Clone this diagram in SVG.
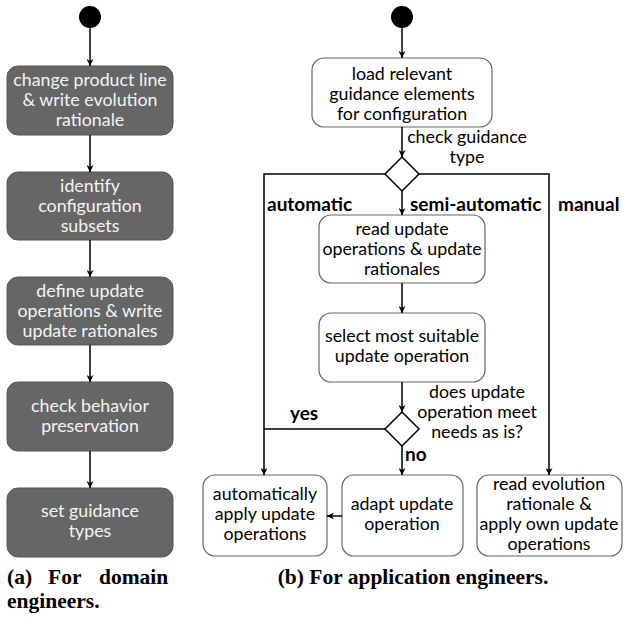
<svg xmlns="http://www.w3.org/2000/svg" width="624" height="623" viewBox="0 0 624 623">
<defs>
<marker id="arr" viewBox="0 0 10 10" refX="10" refY="5" markerWidth="7" markerHeight="7" markerUnits="userSpaceOnUse" orient="auto"><path d="M0,0 L10,5 L0,10 L3,5 z" fill="#000"/></marker>
<style>
.dark rect{fill:#666;stroke:#555;stroke-width:1}
.dark text{fill:#f4f4f4}
.light rect{fill:#fff;stroke:#666;stroke-width:1.2}
text{font-family:Lato,"Open Sans",sans-serif;font-size:17.8px;text-anchor:middle;fill:#000}
.lbl{text-anchor:start}
.b{font-weight:bold;font-size:19px}
.cap{font-family:"Liberation Serif",serif;font-weight:bold;font-size:21.5px}
.conn line,.conn path{stroke:#000;stroke-width:1.5;fill:none}
.dia{fill:#fff;stroke:#000;stroke-width:1.5}
</style>
</defs>
<rect width="624" height="623" fill="#fff"/>

<g id="start-a"><circle cx="90" cy="17" r="11" fill="#000"/></g>
<g id="a1" class="dark"><rect x="7" y="66" width="166" height="69" rx="11"/><text x="90" y="86">change product line</text><text x="90" y="106">&amp; write evolution</text><text x="90" y="126">rationale</text></g>
<g id="a2" class="dark"><rect x="7" y="172" width="166" height="68" rx="11"/><text x="90" y="192">identify</text><text x="90" y="212">configuration</text><text x="90" y="232">subsets</text></g>
<g id="a3" class="dark"><rect x="7" y="277" width="166" height="68" rx="11"/><text x="90" y="297">define update</text><text x="90" y="317">operations &amp; write</text><text x="90" y="337">update rationales</text></g>
<g id="a4" class="dark"><rect x="7" y="382" width="166" height="69" rx="11"/><text x="90" y="412">check behavior</text><text x="90" y="432">preservation</text></g>
<g id="a5" class="dark"><rect x="7" y="488" width="166" height="69" rx="11"/><text x="90" y="517">set guidance</text><text x="90" y="537">types</text></g>

<g id="start-b"><circle cx="402" cy="17" r="11" fill="#000"/></g>
<g id="b1" class="light"><rect x="312" y="58" width="180" height="69" rx="12"/><text x="402" y="80">load relevant</text><text x="402" y="100">guidance elements</text><text x="402" y="120">for configuration</text></g>
<g id="d1"><path class="dia" d="M402,157 L419,174 L402,191 L385,174 z"/></g>
<g id="b2" class="light"><rect x="319" y="215" width="166" height="68" rx="12"/><text x="402" y="235">read update</text><text x="402" y="255">operations &amp; update</text><text x="402" y="275">rationales</text></g>
<g id="b3" class="light"><rect x="319" y="313" width="166" height="69" rx="12"/><text x="402" y="342">select most suitable</text><text x="402" y="362">update operation</text></g>
<g id="d2"><path class="dia" d="M402,412 L419,429 L402,446 L385,429 z"/></g>
<g id="b4" class="light"><rect x="203" y="475" width="124" height="81" rx="12"/><text x="265" y="500">automatically</text><text x="265" y="520">apply update</text><text x="265" y="540">operations</text></g>
<g id="b5" class="light"><rect x="342" y="475" width="121" height="81" rx="12"/><text x="402" y="510">adapt update</text><text x="402" y="530">operation</text></g>
<g id="b6" class="light"><rect x="477" y="475" width="145" height="81" rx="12"/><text x="549" y="490">read evolution</text><text x="549" y="510">rationale &amp;</text><text x="549" y="530">apply own update</text><text x="549" y="550">operations</text></g>

<g class="conn" id="connectors">
<line x1="90" y1="28" x2="90" y2="66" marker-end="url(#arr)"/>
<line x1="90" y1="135" x2="90" y2="172" marker-end="url(#arr)"/>
<line x1="90" y1="240" x2="90" y2="277" marker-end="url(#arr)"/>
<line x1="90" y1="345" x2="90" y2="382" marker-end="url(#arr)"/>
<line x1="90" y1="451" x2="90" y2="488" marker-end="url(#arr)"/>
<line x1="402" y1="28" x2="402" y2="58" marker-end="url(#arr)"/>
<line x1="402" y1="127" x2="402" y2="157" marker-end="url(#arr)"/>
<line x1="402" y1="191" x2="402" y2="215" marker-end="url(#arr)"/>
<path d="M385,174 H264 V475" marker-end="url(#arr)"/>
<path d="M419,174 H549 V475" marker-end="url(#arr)"/>
<line x1="402" y1="283" x2="402" y2="313" marker-end="url(#arr)"/>
<line x1="402" y1="382" x2="402" y2="412" marker-end="url(#arr)"/>
<line x1="385" y1="429" x2="264" y2="429"/>
<line x1="402" y1="446" x2="402" y2="475" marker-end="url(#arr)"/>
<line x1="342" y1="516" x2="327" y2="516" marker-end="url(#arr)"/>
</g>

<g id="labels">
<text x="467" y="143">check guidance</text><text x="467" y="163">type</text>
<text class="lbl b" x="267" y="211">automatic</text>
<text class="lbl b" x="410" y="211">semi-automatic</text>
<text class="lbl b" x="558" y="211">manual</text>
<text x="477" y="398">does update</text><text x="477" y="418">operation meet</text><text x="477" y="438">needs as is?</text>
<text class="lbl b" x="290" y="420">yes</text>
<text class="lbl b" x="405" y="461">no</text>
</g>

<g id="captions">
<text class="cap lbl" x="7" y="584">(a)</text><text class="cap lbl" x="48" y="584">For</text><text class="cap lbl" x="99" y="584">domain</text>
<text class="cap lbl" x="7" y="608">engineers.</text>
<text class="cap" x="413" y="584">(b) For application engineers.</text>
</g>
</svg>
